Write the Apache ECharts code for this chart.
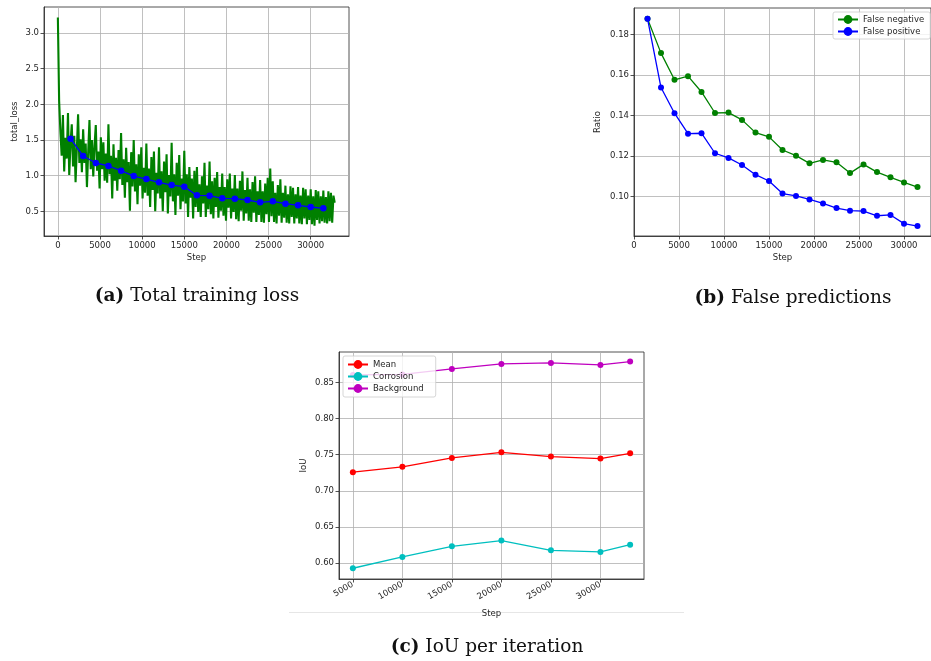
<!DOCTYPE html>
<html><head><meta charset="utf-8">
<script src="https://cdn.jsdelivr.net/npm/echarts@6/dist/echarts.min.js"></script>
<style>html,body{margin:0;padding:0;background:#fff}#c{width:931px;height:661px}</style>
</head><body><div id="c"></div><script>
// ---- (a) Total training loss ----
const lossStep = 150; // one raw loss sample every 150 steps
const lossValues = [
3.22,2.05,1.62,1.28,1.85,1.06,1.53,1.24,1.88,1.01,
1.45,1.72,1.13,1.56,0.91,1.37,1.86,1.18,1.51,1.05,
1.65,1.18,1.45,0.84,1.34,1.78,1.09,1.50,0.99,1.42,
1.71,1.07,1.34,0.82,1.54,1.09,1.47,0.93,1.31,0.90,
1.72,1.02,1.28,0.68,1.44,0.93,1.25,0.79,1.36,0.95,
1.60,0.87,1.23,0.69,1.39,0.91,1.19,0.51,1.33,0.85,
1.50,0.78,1.16,0.60,1.30,0.86,1.40,0.68,1.11,0.76,
1.45,0.72,1.10,0.56,1.26,0.80,1.34,0.50,1.04,0.75,
1.40,0.68,1.06,0.50,1.20,0.77,1.30,0.47,1.01,0.71,
1.46,0.64,1.02,0.45,1.18,0.72,1.29,0.53,0.96,0.64,
1.35,0.61,1.02,0.42,1.12,0.69,0.96,0.40,1.07,0.56,
1.12,0.49,0.88,0.42,0.99,0.61,1.18,0.42,0.86,0.53,
1.20,0.46,0.92,0.40,0.97,0.56,1.05,0.41,0.84,0.51,
1.03,0.44,0.84,0.37,0.95,0.55,1.03,0.40,0.82,0.49,
1.01,0.39,0.82,0.36,0.93,0.51,1.06,0.37,0.80,0.47,
0.97,0.37,0.81,0.35,0.91,0.48,0.99,0.35,0.78,0.45,
0.94,0.35,0.78,0.34,0.89,0.46,0.97,0.35,1.10,0.43,
0.92,0.35,0.76,0.33,0.87,0.44,0.95,0.34,0.76,0.41,
0.86,0.34,0.74,0.33,0.85,0.42,0.83,0.33,0.74,0.40,
0.84,0.33,0.72,0.32,0.83,0.40,0.81,0.32,0.72,0.38,
0.81,0.32,0.71,0.30,0.80,0.38,0.78,0.33,0.71,0.36,
0.79,0.34,0.70,0.33,0.78,0.36,0.76,0.34,0.72,0.62
];
const avgSteps = [1500,3000,4500,6000,7500,9000,10500,12000,13500,15000,16500,18000,19500,21000,22500,24000,25500,27000,28500,30000,31500];
const avgLoss = [1.519,1.276,1.178,1.136,1.070,0.995,0.953,0.907,0.869,0.846,0.724,0.720,0.682,0.678,0.659,0.626,0.640,0.607,0.584,0.561,0.542];
const ticksAX = [0,5000,10000,15000,20000,25000,30000];
const ticksAY = [0.5,1.0,1.5,2.0,2.5,3.0];

// ---- (b) False predictions ----
const fpSteps = [1500,3000,4500,6000,7500,9000,10500,12000,13500,15000,16500,18000,19500,21000,22500,24000,25500,27000,28500,30000,31500];
const falseNegative = [0.1878,0.1708,0.1576,0.1594,0.1516,0.1412,0.1414,0.1378,0.1315,0.1294,0.1229,0.1201,0.1163,0.1180,0.1168,0.1115,0.1158,0.1120,0.1094,0.1069,0.1046];
const falsePositive = [0.1878,0.1538,0.1411,0.1310,0.1312,0.1213,0.1190,0.1155,0.1107,0.1076,0.1014,0.1002,0.0985,0.0965,0.0942,0.0929,0.0927,0.0904,0.0908,0.0865,0.0853];
const ticksBX = [0,5000,10000,15000,20000,25000,30000];
const ticksBY = [0.10,0.12,0.14,0.16,0.18];

// ---- (c) IoU per iteration ----
const iouSteps = [5000,10000,15000,20000,25000,30000,33000];
const iouMean = [0.7257,0.7331,0.7455,0.7533,0.7473,0.7446,0.7519];
const iouCorrosion = [0.5926,0.6083,0.6230,0.6309,0.6175,0.6152,0.6253];
const iouBackground = [0.8605,0.8612,0.8689,0.8758,0.8772,0.8744,0.8790];
const ticksCX = [5000,10000,15000,20000,25000,30000];
const ticksCY = [0.60,0.65,0.70,0.75,0.80,0.85];

const TXT = '#262626', FONT = 'DejaVu Sans', FS = 8.5;
function pairs(xs, ys){ return ys.map((v,i)=>[xs[i], v]); }
const lossData = lossValues.map((v,i)=>[i*lossStep, v]);

function axis(gi, min, max, ticks, fmt, extra, rot){
  return Object.assign({
    type:'value', gridIndex:gi, min:min, max:max,
    axisLine:{show:true, onZero:false, lineStyle:{color:TXT, width:0.8}},
    axisTick:{show:true, customValues:ticks, length:3.5, lineStyle:{color:TXT, width:0.8}},
    axisLabel:{customValues:ticks, formatter:fmt, fontSize:FS, color:TXT, fontFamily:FONT, margin:5, rotate:rot||0},
    splitLine:{show:true, lineStyle:{color:'#b0b0b0', width:0.8}},
    nameLocation:'middle',
    nameTextStyle:{fontSize:FS, color:TXT, fontFamily:FONT}
  }, extra||{});
}
const fInt = v => String(Math.round(v));
const f1 = v => v.toFixed(1), f2 = v => v.toFixed(2);

function lineSeries(name, xi, yi, data, color, size, z){
  return {name:name, type:'line', xAxisIndex:xi, yAxisIndex:yi, data:data,
    symbol:'circle', symbolSize:size, showAllSymbol:true, z:z||2,
    lineStyle:{color:color, width:1.3}, itemStyle:{color:color}, emphasis:{disabled:true}};
}
const legendCommon = {orient:'vertical', itemGap:3, itemWidth:20, itemHeight:11,
  textStyle:{fontSize:FS, color:TXT, fontFamily:FONT},
  backgroundColor:'rgba(255,255,255,0.8)', borderColor:'#cccccc', borderWidth:0.8, borderRadius:2,
  padding:[3,6,3,4], selectedMode:false, z:10};
function caption(x, y, tag, text){
  return {type:'text', x:x, y:y, z:5, style:{text:'{b|'+tag+'} '+text, align:'center', verticalAlign:'middle',
    fontFamily:'DejaVu Serif', fontSize:18.5, fill:'#111',
    rich:{b:{fontWeight:'bold', fontFamily:'DejaVu Serif', fontSize:18.5, fill:'#111'}}}};
}

const chart = echarts.init(document.getElementById('c'), null, {renderer:'canvas'});
chart.setOption({
  animation:false,
  backgroundColor:'#fff',
  grid:[
    {left:44, top:7, width:305, height:229, show:true, borderColor:TXT, borderWidth:0.8, backgroundColor:'transparent'},
    {left:634, top:8, width:305, height:228, show:true, borderColor:TXT, borderWidth:0.8, backgroundColor:'transparent'},
    {left:339, top:352, width:305, height:227, show:true, borderColor:TXT, borderWidth:0.8, backgroundColor:'transparent'}
  ],
  xAxis:[
    axis(0, -1645, 34545, ticksAX, fInt, {name:'Step', nameGap:17}),
    axis(1, 0, 33000, ticksBX, fInt, {name:'Step', nameGap:17}),
    axis(2, 3600, 34400, ticksCX, fInt, {name:'Step', nameGap:30}, 30)
  ],
  yAxis:[
    axis(0, 0.154, 3.366, ticksAY, f1, {name:'total_loss', nameGap:25}),
    axis(1, 0.0804, 0.1931, ticksBY, f2, {name:'Ratio', nameGap:32}),
    axis(2, 0.5777, 0.8923, ticksCY, f2, {name:'IoU', nameGap:31})
  ],
  legend:[
    Object.assign({data:['False negative','False positive'], left:833, top:12}, legendCommon),
    Object.assign({data:['Mean','Corrosion','Background'], left:343, top:356}, legendCommon, {padding:[4,12,4,4]})
  ],
  series:[
    {name:'loss', type:'line', xAxisIndex:0, yAxisIndex:0, data:lossData, symbol:'none',
     lineStyle:{color:'#008000', width:2.1}, itemStyle:{color:'#008000'}, z:1, emphasis:{disabled:true}},
    lineSeries('avg', 0, 0, pairs(avgSteps, avgLoss), '#0000ff', 6.5, 3),
    lineSeries('False negative', 1, 1, pairs(fpSteps, falseNegative), '#008000', 6, 2),
    lineSeries('False positive', 1, 1, pairs(fpSteps, falsePositive), '#0000ff', 6, 3),
    lineSeries('Mean', 2, 2, pairs(iouSteps, iouMean), '#ff0000', 6, 2),
    lineSeries('Corrosion', 2, 2, pairs(iouSteps, iouCorrosion), '#00bfbf', 6, 2),
    lineSeries('Background', 2, 2, pairs(iouSteps, iouBackground), '#bf00bf', 6, 2)
  ],
  graphic:[
    {type:'line', shape:{x1:289, y1:612.5, x2:684, y2:612.5}, style:{stroke:'#e6e6e6', lineWidth:1}, z:0},
    caption(197, 296, '(a)', 'Total training loss'),
    caption(793, 298, '(b)', 'False predictions'),
    caption(487, 647, '(c)', 'IoU per iteration')
  ]
});
</script></body></html>
